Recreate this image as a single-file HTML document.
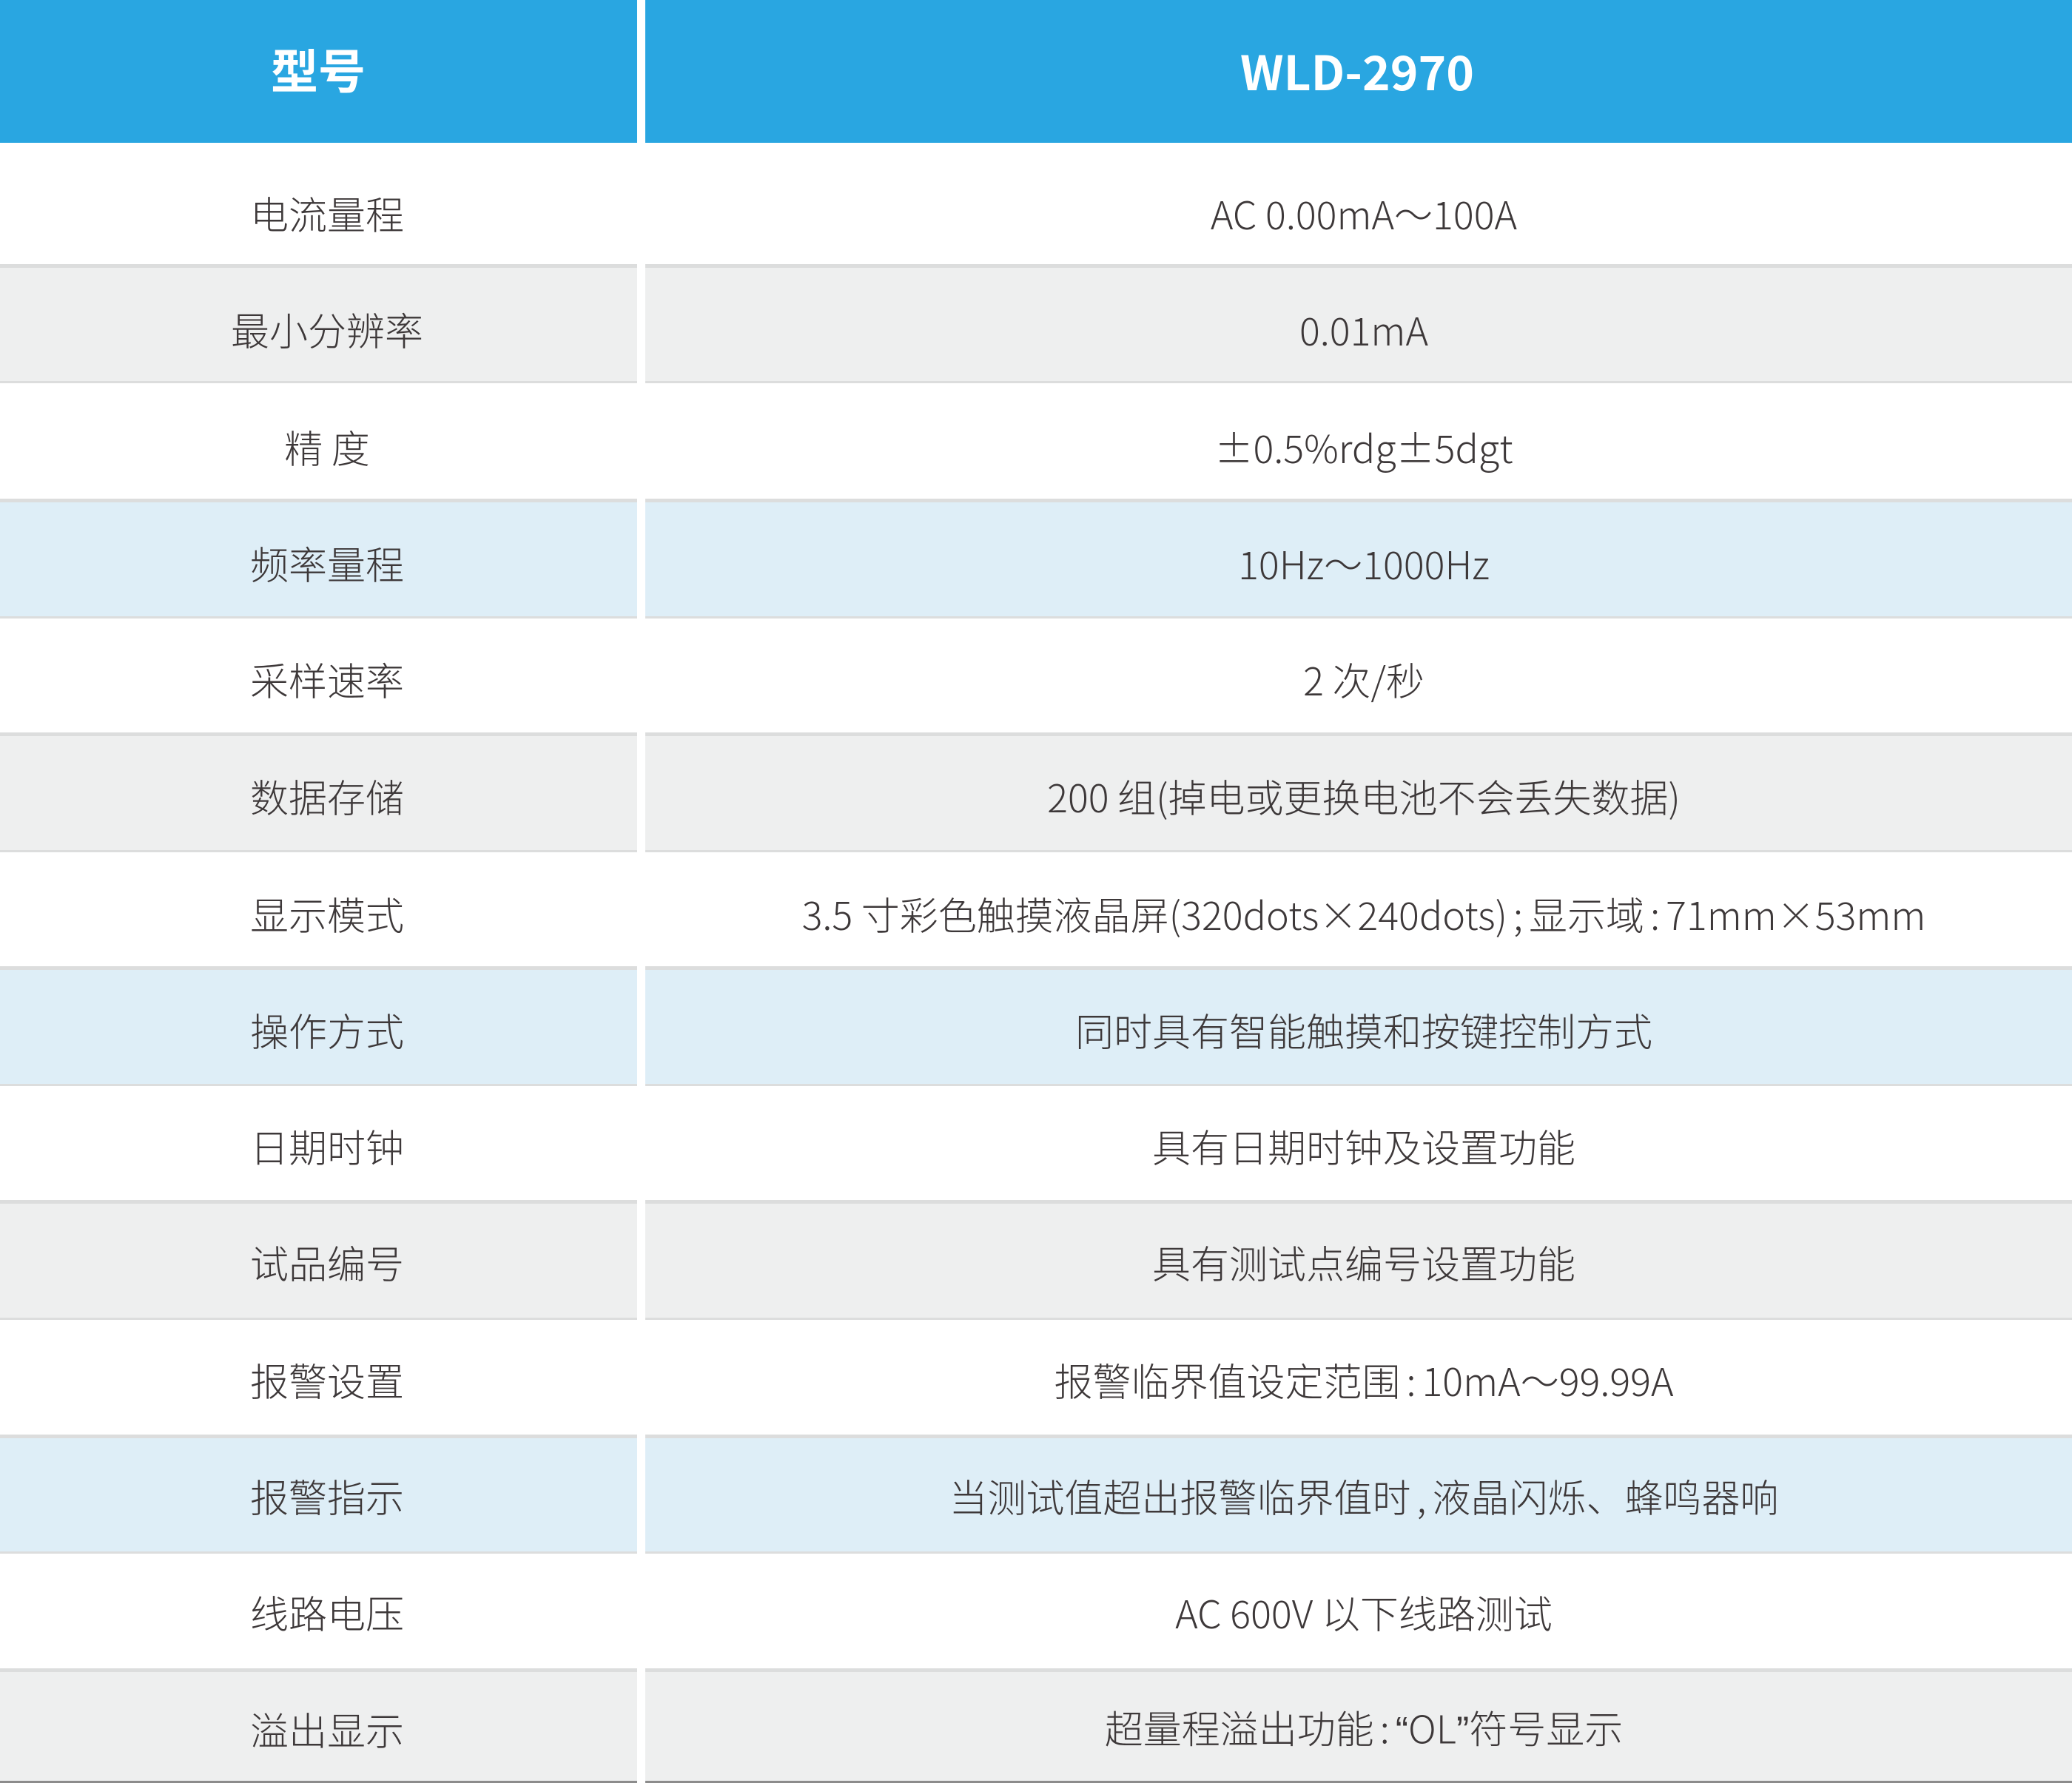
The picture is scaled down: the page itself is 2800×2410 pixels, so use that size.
<!DOCTYPE html>
<html><head><meta charset="utf-8"><style>
html,body{margin:0;padding:0;background:#fff;}
body{width:2800px;height:2410px;position:relative;overflow:hidden;font-family:"Noto Sans CJK SC","Liberation Sans",sans-serif;color:#3d3839;}
.c{position:absolute;box-sizing:border-box;border-top:5px solid #dcdddd;border-bottom:3px solid #dcdddd;}
.g{background:#eeefef;}
.b{background:#deeef7;}
.l{left:0;width:861px;}
.r{left:872px;width:1928px;}
.t{position:absolute;white-space:nowrap;transform:translate(-50%,-50%);font-size:52px;line-height:1;font-weight:300;margin-top:-3px;}
.a{left:442px;}
.v{left:1843px;}
.h{color:#fff;font-weight:700;font-size:64px;}
.p{margin:0 8px;}
.q{font-family:"Liberation Sans",sans-serif;}
</style></head><body>
<div style="position:absolute;left:0;top:0;width:861px;height:193px;background:#29a6e1"></div>
<div style="position:absolute;left:872px;top:0;width:1928px;height:193px;background:#29a6e1"></div>
<div class="t h" style="left:430px;top:96px;">型号</div>
<div class="t h" style="left:1834px;top:98px;">WLD-2970</div>

<div class="c g l" style="top:357px;height:161px"></div><div class="c g r" style="top:357px;height:161px"></div>
<div class="c b l" style="top:674px;height:162px"></div><div class="c b r" style="top:674px;height:162px"></div>
<div class="c g l" style="top:990px;height:162px"></div><div class="c g r" style="top:990px;height:162px"></div>
<div class="c b l" style="top:1306px;height:162px"></div><div class="c b r" style="top:1306px;height:162px"></div>
<div class="c g l" style="top:1622px;height:162px"></div><div class="c g r" style="top:1622px;height:162px"></div>
<div class="c b l" style="top:1939px;height:161px"></div><div class="c b r" style="top:1939px;height:161px"></div>
<div class="c g l" style="top:2255px;height:155px;border-bottom-color:#8c8c8c"></div><div class="c g r" style="top:2255px;height:155px;border-bottom-color:#8c8c8c"></div>

<div class="t a" style="top:291px">电流量程</div><div class="t v" style="top:291px">AC 0.00mA～100A</div>
<div class="t a" style="top:448px">最小分辨率</div><div class="t v" style="top:448px">0.01mA</div>
<div class="t a" style="top:607px">精 度</div><div class="t v" style="top:607px">±0.5%rdg±5dgt</div>
<div class="t a" style="top:764px">频率量程</div><div class="t v" style="top:764px">10Hz～1000Hz</div>
<div class="t a" style="top:921px">采样速率</div><div class="t v" style="top:921px">2 次/秒</div>
<div class="t a" style="top:1079px">数据存储</div><div class="t v" style="top:1079px">200 组(掉电或更换电池不会丢失数据)</div>
<div class="t a" style="top:1238px">显示模式</div><div class="t v" style="top:1238px">3.5 寸彩色触摸液晶屏(320dots×240dots)<span class="p">;</span>显示域<span class="p">:</span>71mm×53mm</div>
<div class="t a" style="top:1395px">操作方式</div><div class="t v" style="top:1395px">同时具有智能触摸和按键控制方式</div>
<div class="t a" style="top:1552px">日期时钟</div><div class="t v" style="top:1552px">具有日期时钟及设置功能</div>
<div class="t a" style="top:1709px">试品编号</div><div class="t v" style="top:1709px">具有测试点编号设置功能</div>
<div class="t a" style="top:1868px">报警设置</div><div class="t v" style="top:1868px">报警临界值设定范围<span class="p">:</span>10mA～99.99A</div>
<div class="t a" style="top:2025px">报警指示</div><div class="t v" style="top:2025px">当测试值超出报警临界值时<span class="p">,</span>液晶闪烁、蜂鸣器响</div>
<div class="t a" style="top:2182px">线路电压</div><div class="t v" style="top:2182px">AC 600V 以下线路测试</div>
<div class="t a" style="top:2340px">溢出显示</div><div class="t v" style="top:2340px">超量程溢出功能<span class="p">:</span><span class="q">“</span>OL<span class="q">”</span>符号显示</div>
</body></html>
